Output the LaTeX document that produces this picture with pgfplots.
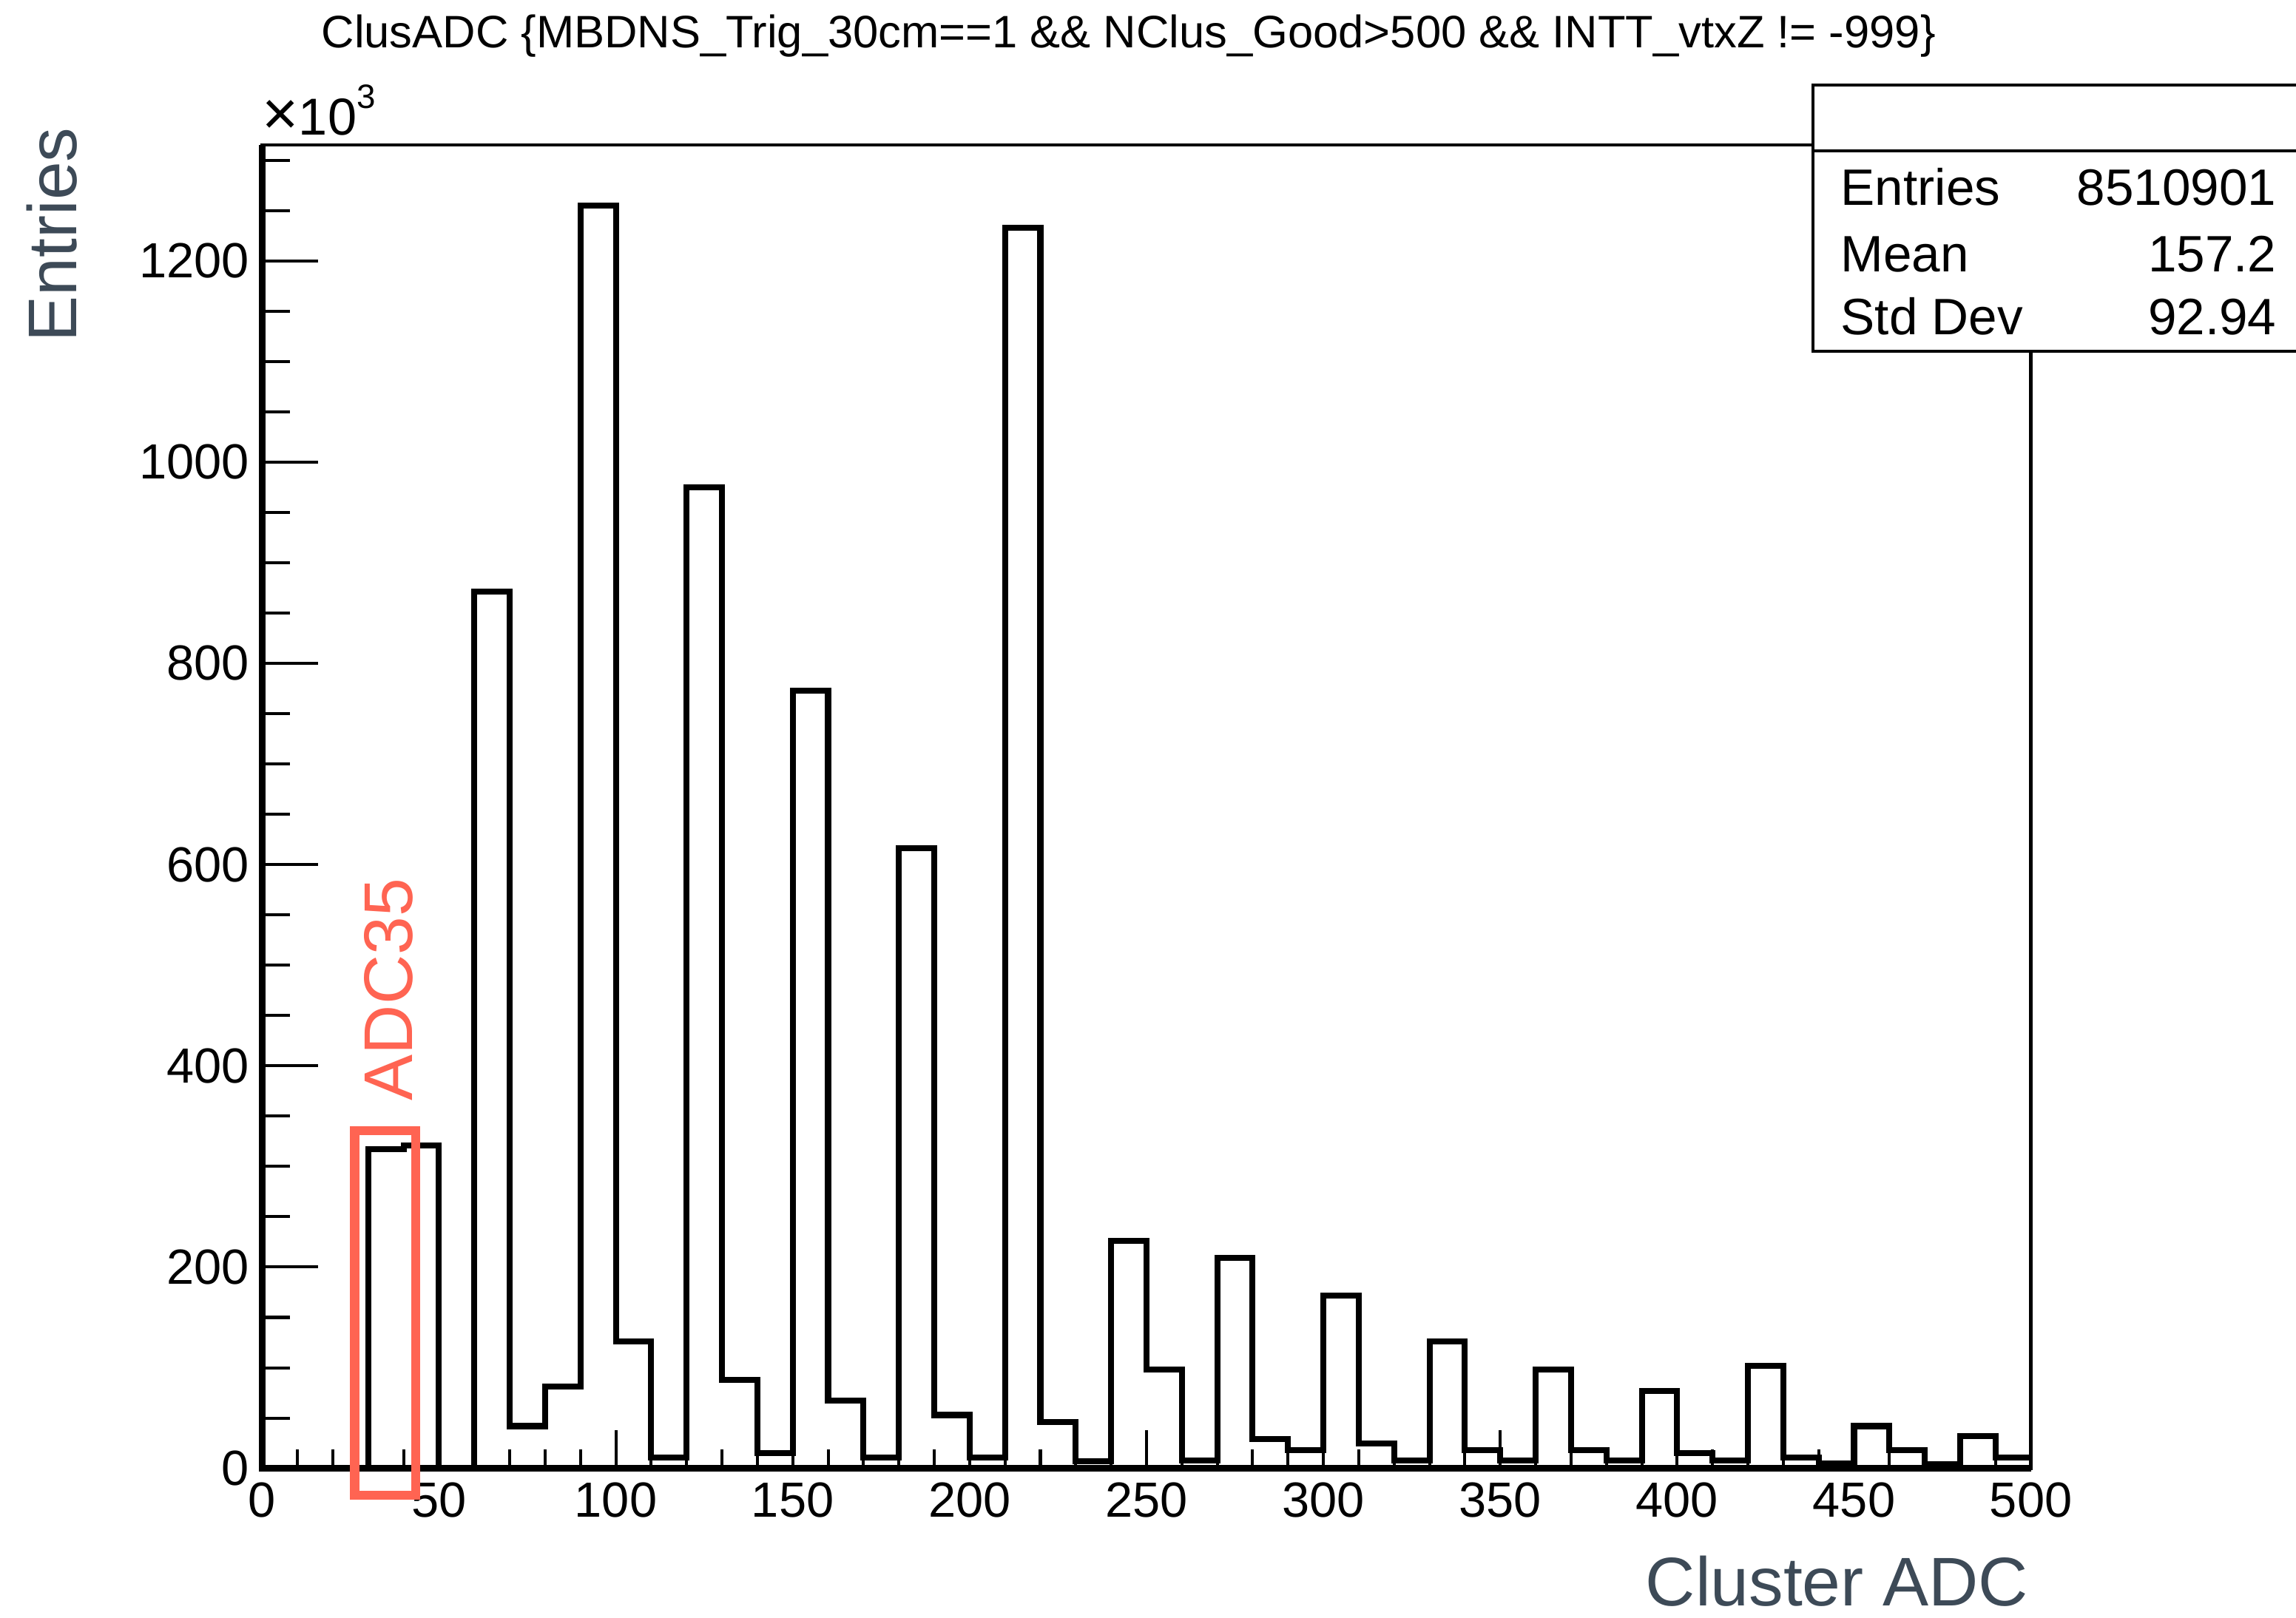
\documentclass[border=0pt]{standalone}
\usepackage{fontspec}
\setmainfont{Liberation Sans}
\usepackage{pgfplots}
\pgfplotsset{compat=1.18}
\definecolor{slate}{RGB}{61,74,87}
\definecolor{annot}{RGB}{255,100,82}

\begin{document}
\begin{tikzpicture}
\useasboundingbox (0,0) rectangle (31.04cm,21.87cm);
\begin{axis}[
  at={(3.543cm,2.014cm)}, anchor=south west,
  scale only axis, width=23.913cm, height=17.896cm,
  xmin=0, xmax=500, ymin=0, ymax=1315.1,
  clip=false,
  axis line style={line width=1.3pt},
  tick pos=left,
  xtick={0,50,...,500}, ytick={0,200,...,1200},
  major tick length=0pt, minor tick length=0pt,
  ticklabel style={font=\fontsize{19}{19}\selectfont},
  yticklabel style={inner xsep=0.17cm},
  xticklabel style={inner ysep=0.19cm},
  /pgf/number format/assume math mode=true,
  /pgf/number format/1000 sep={},
]
% ClusADC histogram, 10-count bins, entries in units of 10^3
\addplot[const plot, black, line width=2.3pt] coordinates {
  (0,0) (10,0) (20,0) (30,317) (40,321) (50,0) (60,871) (70,42) (80,81) (90,1255)
  (100,126) (110,11) (120,975) (130,88) (140,15) (150,773) (160,67) (170,11) (180,616) (190,53)
  (200,11) (210,1233) (220,46) (230,7) (240,226) (250,98) (260,8) (270,209) (280,29) (290,18)
  (300,172) (310,25) (320,8) (330,126) (340,18) (350,8) (360,98) (370,18) (380,8) (390,77)
  (400,15) (410,8) (420,102) (430,11) (440,5) (450,42) (460,18) (470,4) (480,32) (490,11)
  (500,11)
};
% inward ticks: y every 50 (long every 200), x every 10 (long every 50)
\pgfplotsinvokeforeach{50,100,150,250,300,350,450,500,550,650,700,750,850,900,950,1050,1100,1150,1250,1300}{
  \draw[line width=1.15pt] (axis cs:0,#1) -- ++(0.38cm,0);
}
\pgfplotsinvokeforeach{200,400,600,800,1000,1200}{
  \draw[line width=1.15pt] (axis cs:0,#1) -- ++(0.76cm,0);
}
\pgfplotsinvokeforeach{10,20,30,40,60,70,80,90,110,120,130,140,160,170,180,190,210,220,230,240,
  260,270,280,290,310,320,330,340,360,370,380,390,410,420,430,440,460,470,480,490}{
  \draw[line width=1.15pt] (axis cs:#1,0) -- ++(0,0.26cm);
}
\pgfplotsinvokeforeach{50,100,150,200,250,300,350,400,450}{
  \draw[line width=1.15pt] (axis cs:#1,0) -- ++(0,0.52cm);
}
% heavier left and bottom axis lines
\draw[line width=2.4pt] (rel axis cs:0,1) -- (rel axis cs:0,0) -- (rel axis cs:1,0);
% highlighted bin
\draw[annot, line width=3.5pt] (axis cs:26.2,-26.7) rectangle (axis cs:43.4,335.5);
\node[annot, rotate=90, anchor=base west, inner sep=0pt, font=\fontsize{26.5}{26.5}\selectfont]
  at (axis cs:42.4,365) {ADC35};
\end{axis}

% exponent of the y axis
\node[anchor=base west, inner sep=0pt, font=\fontsize{20}{20}\selectfont]
  at (3.54cm,20.04cm) {{\fontsize{24}{24}\selectfont×}10\raisebox{0.36cm}{\fontsize{13}{13}\selectfont 3}};

% title
\node[anchor=base west, inner sep=0pt, font=\fontsize{17.5}{17.5}\selectfont]
  at (4.34cm,21.22cm) {ClusADC \{MBDNS\_Trig\_30cm==1 \&\& NClus\_Good>500 \&\& INTT\_vtxZ != -999\}};

% statistics box
\filldraw[fill=white, draw=black, line width=1.15pt] (24.51cm,17.12cm) rectangle (31.6cm,20.72cm);
\draw[line width=1.15pt] (24.51cm,19.83cm) -- (31.6cm,19.83cm);
\begin{scope}[every node/.style={inner sep=0pt, font=\fontsize{19.7}{19.7}\selectfont}]
  \node[anchor=base west] at (24.88cm,19.09cm) {Entries};
  \node[anchor=base west] at (24.88cm,18.19cm) {Mean};
  \node[anchor=base west] at (24.88cm,17.34cm) {Std Dev};
  \node[anchor=base east] at (30.78cm,19.09cm) {8510901};
  \node[anchor=base east] at (30.78cm,18.19cm) {157.2};
  \node[anchor=base east] at (30.78cm,17.34cm) {92.94};
\end{scope}

% axis titles
\node[slate, rotate=90, anchor=base west, inner sep=0pt, font=\fontsize{26.5}{26.5}\selectfont]
  at (1.03cm,17.24cm) {Entries};
\node[slate, anchor=base east, inner sep=0pt, font=\fontsize{26.5}{26.5}\selectfont]
  at (27.43cm,0.16cm) {Cluster ADC};
\end{tikzpicture}
\end{document}
